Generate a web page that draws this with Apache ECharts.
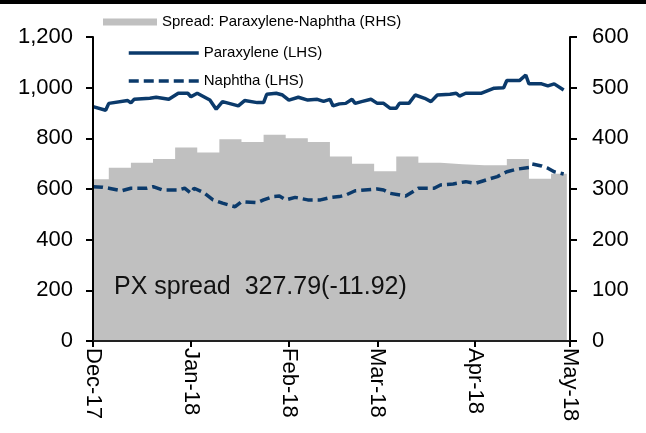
<!DOCTYPE html>
<html>
<head>
<meta charset="utf-8">
<title>PX spread</title>
<script src="https://cdn.jsdelivr.net/npm/echarts@6/dist/echarts.min.js"></script>
<style>
    html, body {margin: 0; padding: 0; background: #fff;}
    #chart {width: 646px; height: 433px;}
</style>
</head>
<body>
<div id="chart"></div>
<script>
    // weekly spread (RHS), value holds from its date until the next one
    const spreadDates = ['2017-12-01', '2017-12-06', '2017-12-13', '2017-12-20', '2017-12-27', '2018-01-03',
        '2018-01-10', '2018-01-17', '2018-01-24', '2018-01-31', '2018-02-07', '2018-02-14', '2018-02-21',
        '2018-02-28', '2018-03-07', '2018-03-14', '2018-03-21', '2018-03-28', '2018-04-04', '2018-04-11',
        '2018-04-18', '2018-04-25', '2018-04-30'];
    const spreadValues = [319, 342, 352, 359, 382, 372, 398, 393, 407, 400, 393, 364, 350, 335, 364, 352,
        349, 347, 347, 359, 320, 330, 330];

    const pxDates = ['2017-12-01', '2017-12-05', '2017-12-06', '2017-12-12', '2017-12-13', '2017-12-14',
        '2017-12-19', '2017-12-21', '2017-12-25', '2017-12-28', '2017-12-31', '2018-01-01', '2018-01-03',
        '2018-01-07', '2018-01-09', '2018-01-11', '2018-01-16', '2018-01-18', '2018-01-22', '2018-01-24',
        '2018-01-25', '2018-01-28', '2018-01-30', '2018-02-01', '2018-02-04', '2018-02-07', '2018-02-10',
        '2018-02-12', '2018-02-14', '2018-02-15', '2018-02-17', '2018-02-19', '2018-02-21', '2018-02-22',
        '2018-02-24', '2018-02-27', '2018-03-01', '2018-03-03', '2018-03-05', '2018-03-07', '2018-03-08',
        '2018-03-11', '2018-03-13', '2018-03-16', '2018-03-18', '2018-03-20', '2018-03-24', '2018-03-26',
        '2018-03-27', '2018-03-29', '2018-04-03', '2018-04-07', '2018-04-10', '2018-04-11', '2018-04-15',
        '2018-04-17', '2018-04-18', '2018-04-22', '2018-04-24', '2018-04-26', '2018-04-29'];
    const pxValues = [925, 911, 938, 949, 940, 954, 958, 962, 954, 978, 978, 964, 978, 951, 915, 945, 928,
        949, 941, 941, 974, 978, 971, 951, 962, 951, 954, 946, 954, 928, 936, 938, 954, 938, 945, 954, 938,
        938, 919, 919, 938, 938, 971, 958, 945, 971, 974, 978, 967, 978, 978, 998, 1000, 1028, 1028, 1050,
        1015, 1015, 1007, 1015, 991];

    const naphthaDates = ['2017-12-01', '2017-12-04', '2017-12-06', '2017-12-10', '2017-12-13', '2017-12-18',
        '2017-12-20', '2017-12-23', '2017-12-28', '2017-12-30', '2018-01-01', '2018-01-02', '2018-01-05',
        '2018-01-08', '2018-01-11', '2018-01-15', '2018-01-17', '2018-01-22', '2018-01-24', '2018-01-27',
        '2018-01-29', '2018-01-31', '2018-02-03', '2018-02-07', '2018-02-11', '2018-02-14', '2018-02-17',
        '2018-02-19', '2018-02-22', '2018-03-01', '2018-03-03', '2018-03-05', '2018-03-10', '2018-03-14',
        '2018-03-19', '2018-03-21', '2018-03-25', '2018-03-29', '2018-04-01', '2018-04-05', '2018-04-08',
        '2018-04-11', '2018-04-14', '2018-04-18', '2018-04-19', '2018-04-22', '2018-04-24', '2018-04-26',
        '2018-04-29'];
    const naphthaValues = [609, 607, 603, 593, 603, 603, 609, 596, 596, 603, 583, 603, 586, 557, 544, 530,
        550, 546, 557, 570, 572, 557, 567, 557, 557, 566, 570, 576, 593, 600, 596, 583, 572, 603, 603, 616,
        620, 629, 622, 638, 649, 668, 678, 685, 699, 691, 682, 668, 659];

    const monthTicks = ['2017-12-01', '2018-01-01', '2018-02-01', '2018-03-01', '2018-04-01', '2018-05-01'];
    const leftTicks = [0, 200, 400, 600, 800, 1000, 1200];
    const rightTicks = [0, 100, 200, 300, 400, 500, 600];
    const spreadNote = 'PX spread  327.79(-11.92)';

    const FONT = '"Liberation Sans", Arial, sans-serif';
    const NAVY = '#0b3a6b';
    const GREY = '#c0c0c0';
    const MONTHS = ['Jan', 'Feb', 'Mar', 'Apr', 'May', 'Jun', 'Jul', 'Aug', 'Sep', 'Oct', 'Nov', 'Dec'];

    const toTime = d => new Date(d + 'T00:00:00Z').getTime();
    const zip = (xs, ys) => xs.map((x, i) => [toTime(x), ys[i]]);
    const withComma = v => String(v).replace(/\B(?=(\d{3})+(?!\d))/g, ',');
    const monthLabel = v => {
        const d = new Date(v);
        return MONTHS[d.getUTCMonth()] + '-' + String(d.getUTCFullYear()).slice(2);
    };

    function yAxis(ticks, position, margin, formatter) {
        return {
            type: 'value',
            position,
            min: ticks[0],
            max: ticks[ticks.length - 1],
            interval: ticks[1] - ticks[0],
            z: 10,
            axisLine: {show: true, lineStyle: {color: '#000', width: 2}},
            axisTick: {show: true, inside: false, length: 7, lineStyle: {color: '#000', width: 2}},
            splitLine: {show: false},
            axisLabel: {color: '#000', fontFamily: FONT, fontSize: 22, margin, formatter}
        };
    }

    // one legend per row, the rows are not aligned in the original
    function legend(name, left, top, width, height, dashed) {
        const box = {
            data: [{name}],
            left, top,
            itemWidth: width,
            itemHeight: height,
            padding: 0,
            selectedMode: false,
            textStyle: {color: '#000', fontFamily: FONT, fontSize: 15, lineHeight: 18}
        };
        if (dashed === undefined) {
            box.data[0].icon = 'rect';
            box.itemStyle = {color: GREY, borderWidth: 0};
        } else {
            box.itemStyle = {color: 'rgba(0,0,0,0)', borderColor: 'rgba(0,0,0,0)', borderWidth: 0};
            box.lineStyle = {width: 3.5, color: NAVY, type: dashed ? [10, 5] : 'solid'};
        }
        return box;
    }

    const chart = echarts.init(document.getElementById('chart'), null, {renderer: 'canvas'});

    const tickTimes = monthTicks.map(toTime);

    const option = {
        animation: false,
        backgroundColor: '#fff',
        grid: {left: 93, right: 76, top: 37, bottom: 92},
        legend: [
            legend('Spread: Paraxylene-Naphtha (RHS)', 103, 13, 54, 7),
            legend('Paraxylene (LHS)', 127, 44, 70, 14, false),
            legend('Naphtha (LHS)', 127, 72, 70, 14, true)
        ],
        // dates as plain timestamps on a value axis, month ticks placed by hand
        xAxis: {
            type: 'value',
            min: tickTimes[0],
            max: tickTimes[tickTimes.length - 1],
            z: 10,
            axisLine: {lineStyle: {color: '#222', width: 2}},
            axisTick: {
                show: true, length: 6, customValues: tickTimes,
                lineStyle: {color: '#000', width: 2}
            },
            splitLine: {show: false},
            axisLabel: {
                customValues: tickTimes,
                rotate: -90,
                margin: 7,
                color: '#000',
                fontFamily: FONT,
                fontSize: 22,
                showMinLabel: true,
                showMaxLabel: true,
                formatter: monthLabel
            }
        },
        yAxis: [
            yAxis(leftTicks, 'left', 20, withComma),
            yAxis(rightTicks, 'right', 22)
        ],
        series: [
            {
                name: 'Spread: Paraxylene-Naphtha (RHS)',
                type: 'line',
                yAxisIndex: 1,
                step: 'end',
                symbol: 'none',
                data: zip(spreadDates, spreadValues),
                lineStyle: {width: 0, color: GREY},
                itemStyle: {color: GREY},
                areaStyle: {color: GREY, opacity: 1},
                z: 1
            },
            {
                name: 'Paraxylene (LHS)',
                type: 'line',
                symbol: 'none',
                data: zip(pxDates, pxValues),
                lineStyle: {width: 3.5, color: NAVY},
                itemStyle: {color: NAVY},
                z: 3
            },
            {
                name: 'Naphtha (LHS)',
                type: 'line',
                symbol: 'none',
                data: zip(naphthaDates, naphthaValues),
                lineStyle: {width: 3.5, color: NAVY, type: [10, 5]},
                itemStyle: {color: NAVY},
                z: 3
            }
        ],
        graphic: [
            {type: 'rect', left: 0, top: 0, shape: {width: 646, height: 4}, style: {fill: '#000'}},
            {
                type: 'text', left: 114, top: 275, z: 20,
                style: {text: spreadNote, fill: '#111', font: '25px ' + FONT}
            }
        ]
    };

    chart.setOption(option);
</script>
</body>
</html>
